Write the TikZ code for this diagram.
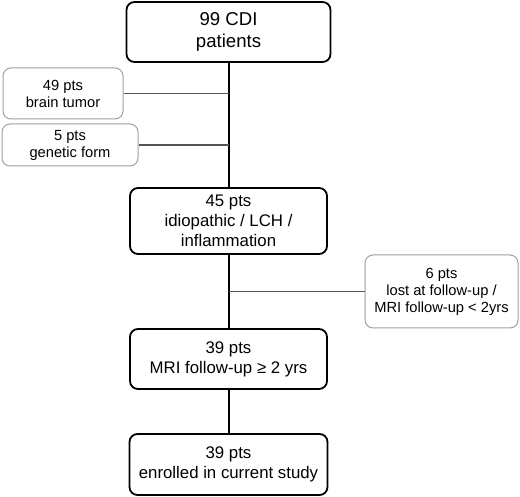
\documentclass[tikz,border=0pt]{standalone}
\usepackage{fontspec}
\setmainfont{Liberation Sans}
\usetikzlibrary{positioning,calc}
\definecolor{sidegray}{RGB}{160,160,160}
\definecolor{branchgray}{RGB}{85,85,85}
\tikzset{
  mainbox/.style={draw=black, line width=1.8pt, rounded corners=8pt, fill=white, align=center,
    minimum width=197pt, minimum height=60pt, font=\fontsize{16.8}{20}\selectfont},
  sidebox/.style={draw=sidegray, line width=1pt, rounded corners=8pt, fill=white, align=center,
    font=\fontsize{14.7}{17}\selectfont},
  trunk/.style={draw=black, line width=2pt},
  branch/.style={draw=branchgray, line width=1.1pt}
}
\begin{document}
\begin{tikzpicture}[x=1pt, y=-1pt]
    \useasboundingbox (0,0) rectangle (520,497);
    \node[mainbox, minimum width=204pt, font=\fontsize{18.6}{22}\selectfont] (cdi) at (228.5,32){99 CDI\\patients};
    \node[sidebox, minimum width=120pt, minimum height=51pt] (tumor) at (63,93.5){49 pts\\brain tumor};
    \node[sidebox, minimum width=136pt, minimum height=42pt] (genetic) at (70,145){5 pts\\genetic form};
    \node[mainbox, minimum height=66pt] (idio) at (228.5,221){45 pts\\idiopathic / LCH /\\inflammation};
    \node[sidebox, minimum width=153pt, minimum height=73pt] (lost) at (441.5,291.5){6 pts\\lost at follow-up /\\MRI follow-up < 2yrs};
    \node[mainbox] (mri) at (228.5,359){39 pts\\MRI follow-up ≥ 2 yrs};
    \node[mainbox, minimum width=198pt, minimum height=61pt] (enrolled) at (228.5,464.5){39 pts\\enrolled in current study};
    % trunk
    \draw[trunk] (cdi.south) -- (idio.north);
    \draw[trunk] (idio.south) -- (mri.north);
    \draw[trunk] (mri.south) -- (enrolled.north);
    % exclusions
    \draw[branch] (tumor.east) -- (tumor.east -| cdi.south);
    \draw[branch] (genetic.east) -- (genetic.east -| cdi.south);
    \draw[branch] (lost.west) -- (lost.west -| idio.south);
\end{tikzpicture}
\end{document}
